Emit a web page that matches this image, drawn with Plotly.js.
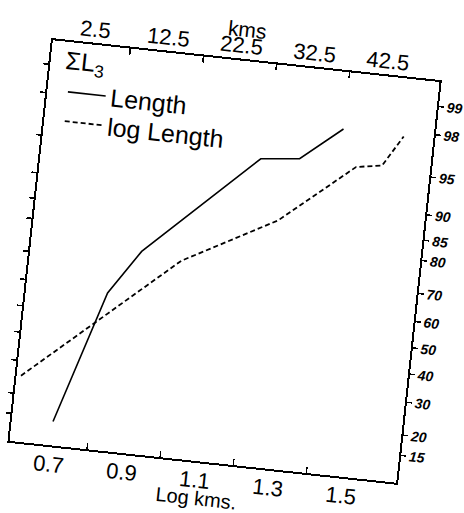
<!DOCTYPE html>
<html>
<head>
<meta charset="utf-8">
<script src="https://cdn.plot.ly/plotly-3.0.1.min.js"></script>
<style>
  html, body { margin: 0; padding: 0; background: #ffffff; overflow: hidden; width: 464px; height: 513px; }
  #chart {
    position: absolute; left: 0; top: 0; width: 464px; height: 560px;
    transform: rotate(6.17deg);
    transform-origin: 224.85px 261.75px;
  }
</style>
</head>
<body>
<div id="chart"></div>
<script>
// ---- data ----
const logKmsLength = [0.70, 0.81, 0.89, 1.185, 1.29, 1.40];
const pctLength = [14.2, 58.3, 73.9, 95.0, 95.4, 97.8];
const logKmsLogLength = [0.60, 1.00, 1.25, 1.445, 1.515, 1.565];
const pctLogLength = [25.2, 72.3, 85.9, 95.2, 95.6, 97.75];

const bottomTickVals = [0.7, 0.9, 1.1, 1.3, 1.5];
const bottomTickText = ["0.7", "0.9", "1.1", "1.3", "1.5"];
const bottomMinorTicks = [0.8, 1.0, 1.2, 1.4];
const topTickVals = [2.5, 12.5, 22.5, 32.5, 42.5];
const topTickText = ["2.5", "12.5", "22.5", "32.5", "42.5"];
const topMinorTicks = [7.5, 17.5, 27.5, 37.5];
const probTicks = [15, 20, 30, 40, 50, 60, 70, 80, 85, 90, 95, 98, 99];

// normal-probability axis: inverse normal CDF (Acklam)
function probit(p) {
  const a = [-3.969683028665376e+01, 2.209460984245205e+02, -2.759285104469687e+02,
             1.383577518672690e+02, -3.066479806614716e+01, 2.506628277459239e+00];
  const b = [-5.447609879822406e+01, 1.615858368580409e+02, -1.556989798598866e+02,
             6.680131188771972e+01, -1.328068155288572e+01];
  const c = [-7.784894002430293e-03, -3.223964580411365e-01, -2.400758277161838e+00,
             -2.549671479891064e+00, 4.374664141464968e+00, 2.938163982698783e+00];
  const d = [7.784695709041462e-03, 3.224671290700398e-01, 2.445134137142996e+00,
             3.754408661907416e+00];
  const pl = 0.02425, ph = 1 - pl;
  let q, r;
  if (p < pl) {
    q = Math.sqrt(-2 * Math.log(p));
    return (((((c[0]*q+c[1])*q+c[2])*q+c[3])*q+c[4])*q+c[5]) / ((((d[0]*q+d[1])*q+d[2])*q+d[3])*q+1);
  } else if (p <= ph) {
    q = p - 0.5; r = q*q;
    return (((((a[0]*r+a[1])*r+a[2])*r+a[3])*r+a[4])*r+a[5])*q / (((((b[0]*r+b[1])*r+b[2])*r+b[3])*r+b[4])*r+1);
  } else {
    q = Math.sqrt(-2 * Math.log(1 - p));
    return -(((((c[0]*q+c[1])*q+c[2])*q+c[3])*q+c[4])*q+c[5]) / ((((d[0]*q+d[1])*q+d[2])*q+d[3])*q+1);
  }
}
const toZ = arr => arr.map(v => probit(v / 100));

const FONT = "Liberation Sans, Arial, sans-serif";

const traces = [
  {
    type: "scatter", mode: "lines", name: "Length", legend: "legend",
    x: logKmsLength, y: toZ(pctLength),
    line: { color: "#000000", width: 1.6 },
    hoverinfo: "skip"
  },
  {
    type: "scatter", mode: "lines", name: "log Length", legend: "legend2",
    x: logKmsLogLength, y: toZ(pctLogLength),
    line: { color: "#000000", width: 1.8, dash: "5px,3px" },
    hoverinfo: "skip"
  },
  {
    type: "scatter", mode: "lines", x: [], y: [], xaxis: "x2",
    showlegend: false, hoverinfo: "skip"
  }
];

const xMin = 0.588, xMax = 1.646;
const kmAt = v => 7.5 + (v - 0.8) * 50;
const boxH = 403.3, boxW = 388.9;

const legendCommon = {
  xanchor: "left", yanchor: "middle",
  bgcolor: "rgba(0,0,0,0)", borderwidth: 0,
  font: { family: FONT, size: 25, color: "#000" },
  itemwidth: 38
};

const layout = {
  width: 464, height: 560,
  margin: { l: 30.4, r: 44.7, t: 60.1, b: 96.6 },
  paper_bgcolor: "#ffffff", plot_bgcolor: "#ffffff",
  showlegend: true,
  font: { family: FONT, color: "#000000" },
  xaxis: {
    range: [xMin, xMax], showgrid: false, zeroline: false,
    showline: true, linewidth: 2, linecolor: "#000",
    tickmode: "array", tickvals: bottomTickVals, ticktext: bottomTickText,
    ticks: "inside", ticklen: 0, ticklabelstandoff: -2,
    minor: { tickmode: "array", tickvals: bottomMinorTicks, ticks: "inside", ticklen: 6, tickwidth: 1.5, tickcolor: "#000", showgrid: false },
    tickfont: { family: FONT, size: 22, color: "#000" }
  },
  xaxis2: {
    overlaying: "x", side: "top", anchor: "y",
    range: [kmAt(xMin), kmAt(xMax)], showgrid: false, zeroline: false,
    showline: true, linewidth: 2, linecolor: "#000",
    tickmode: "array", tickvals: topTickVals, ticktext: topTickText,
    ticks: "inside", ticklen: 0, ticklabelstandoff: -3,
    minor: { tickmode: "array", tickvals: topMinorTicks, ticks: "inside", ticklen: 6, tickwidth: 1.5, tickcolor: "#000", showgrid: false },
    tickfont: { family: FONT, size: 22, color: "#000" }
  },
  yaxis: {
    side: "right", range: [-1.301, 2.560],
    showgrid: false, zeroline: false,
    showline: true, linewidth: 2, linecolor: "#000", mirror: "ticks",
    tickmode: "array", tickvals: toZ(probTicks), ticktext: probTicks.map(String),
    ticks: "outside", ticklen: 5, tickwidth: 1.5, tickcolor: "#000",
    tickfont: { family: FONT, size: 14, color: "#000", style: "italic", weight: "bold" }
  },
  legend: Object.assign({ x: 0.04, y: 1 - 50 / boxH }, legendCommon),
  legend2: Object.assign({ x: 0.04, y: 1 - 79.5 / boxH }, legendCommon),
  annotations: [
    { text: "ΣL<sub>3</sub>", xref: "paper", yref: "paper", x: 13 / boxW, y: 1 - 20.5 / boxH,
      xanchor: "left", yanchor: "middle", showarrow: false,
      font: { family: FONT, size: 25, color: "#000" } },
    { text: "kms", xref: "paper", yref: "paper", x: 0.496, y: 1 + 31.6 / boxH,
      xanchor: "center", yanchor: "middle", showarrow: false,
      font: { family: FONT, size: 21, color: "#000" } },
    { text: "Log kms.", xref: "paper", yref: "paper", x: 0.493, y: -37.5 / boxH,
      xanchor: "center", yanchor: "middle", showarrow: false,
      font: { family: FONT, size: 20, color: "#000" } }
  ]
};

Plotly.newPlot("chart", traces, layout, { staticPlot: true, displayModeBar: false });
</script>
</body>
</html>
